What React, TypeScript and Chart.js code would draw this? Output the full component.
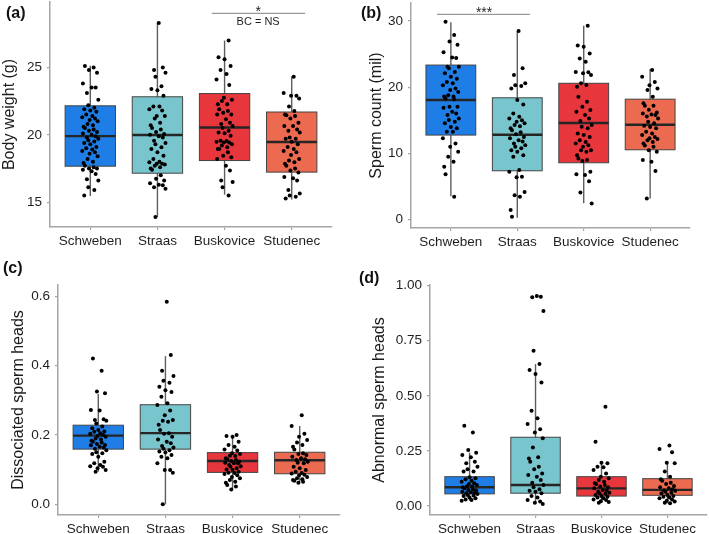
import React, { useEffect, useRef } from "react";
import { Chart, registerables } from "chart.js";

Chart.register(...registerables);

const FONT = "'Liberation Sans', Arial, Helvetica, sans-serif";
const CATEGORIES = ["Schweben", "Straas", "Buskovice", "Studenec"];
const BOX_FILLS = ["#1f7ee6", "#79c5cd", "#e7373c", "#ec6a4f"];
const JITTER = [-0.08, 0.05, -0.02, 0.1, -0.11, 0.02, 0.08, -0.05, 0.12, -0.03, 0.06, -0.09, 0.0, 0.09, -0.06, 0.03, -0.12, 0.07, -0.01, 0.11, -0.04, 0.04, -0.1];

// ---- (a) Body weight (g) ----
// box stats: [lower whisker, Q1, median, Q3, upper whisker]
const BW_BOX = [
  [15.46, 17.67, 19.9, 22.15, 25.12],
  [13.9, 17.15, 19.98, 22.82, 28.33],
  [15.56, 18.09, 20.54, 23.06, 26.99],
  [15.2, 17.23, 19.46, 21.69, 24.34],
];
const BW_TICKS = [15, 20, 25];
const BW_SCHWEBEN = [25.1, 25.0, 24.8, 24.6, 23.8, 23.5, 23.5, 23.1, 22.6, 22.2, 22.0, 21.9, 21.8, 21.7, 21.5, 21.4, 21.3, 21.2, 21.1, 21.0, 20.8, 20.7, 20.6, 20.5, 20.4, 20.3, 20.2, 20.1, 20.0, 19.9, 19.8, 19.7, 19.6, 19.5, 19.4, 19.3, 19.1, 19.0, 18.9, 18.8, 18.7, 18.6, 18.4, 18.2, 18.0, 17.9, 17.7, 17.6, 17.5, 17.5, 17.4, 17.3, 17.1, 16.7, 16.6, 16.1, 15.9, 15.5];
const BW_STRAAS = [28.3, 25.0, 24.8, 24.6, 24.3, 23.6, 23.4, 23.3, 22.9, 22.1, 22.1, 21.9, 21.8, 21.4, 21.4, 21.2, 20.9, 20.7, 20.5, 20.4, 20.2, 20.05, 20.0, 19.9, 19.8, 19.56, 19.4, 19.3, 19.07, 18.95, 18.7, 18.45, 18.2, 18.0, 17.96, 17.85, 17.85, 17.8, 17.7, 17.6, 17.5, 17.4, 16.99, 16.74, 16.6, 16.4, 16.3, 16.25, 16.1, 16.0, 13.9];
const BW_BUSKOVICE = [27.0, 25.76, 25.6, 25.1, 24.8, 24.5, 24.1, 23.7, 22.74, 22.6, 22.5, 22.26, 22.26, 21.9, 21.76, 21.64, 21.5, 21.5, 21.15, 20.9, 20.8, 20.66, 20.5, 20.3, 20.17, 20.12, 19.93, 19.56, 19.54, 19.48, 19.43, 19.43, 19.3, 19.2, 19.07, 18.95, 18.95, 18.7, 18.45, 18.33, 18.2, 17.7, 17.35, 16.6, 16.5, 16.1, 15.5];
const BW_STUDENEC = [24.3, 23.1, 22.9, 22.9, 22.7, 22.1, 21.76, 21.5, 21.45, 21.4, 21.2, 20.9, 20.66, 20.66, 20.4, 20.3, 20.17, 19.8, 19.7, 19.7, 19.48, 19.3, 19.1, 18.95, 18.8, 18.7, 18.5, 18.2, 18.1, 17.96, 17.85, 17.7, 17.5, 17.35, 17.2, 16.86, 16.78, 16.6, 15.9, 15.64, 15.5, 15.4, 15.27];

// ---- (b) Sperm count (mil) ----
const SC_BOX = [
  [3.56, 12.78, 18.07, 23.35, 29.8],
  [0.3, 7.39, 12.83, 18.41, 28.5],
  [2.5, 8.6, 14.6, 20.6, 29.3],
  [3.2, 10.56, 14.34, 18.2, 22.75],
];
const SC_TICKS = [0, 10, 20, 30];
const SC_SCHWEBEN = [29.9, 27.9, 26.9, 26.4, 25.3, 24.5, 24.4, 23.1, 23.1, 22.85, 22.3, 22.1, 21.6, 21.3, 20.8, 20.6, 20.3, 19.8, 19.6, 19.3, 18.8, 18.6, 18.6, 18.3, 18.2, 17.05, 17.05, 16.9, 16.3, 16.05, 15.8, 15.3, 15.05, 14.8, 14.55, 14.0, 13.8, 13.3, 13.3, 12.3, 11.5, 11.0, 10.25, 9.5, 8.75, 8.0, 6.85, 3.46];
const SC_STRAAS = [28.5, 22.85, 21.85, 20.6, 20.3, 20.2, 19.8, 18.07, 17.4, 16.05, 15.55, 15.3, 15.0, 14.8, 14.55, 14.3, 14.1, 13.8, 13.5, 13.2, 12.9, 12.5, 12.3, 12.0, 11.8, 11.5, 11.25, 11.0, 10.8, 10.5, 10.25, 9.75, 9.5, 7.5, 7.25, 6.5, 6.4, 4.2, 3.7, 3.45, 1.45, 0.44];
const SC_BUSKOVICE = [29.3, 26.3, 26.1, 25.1, 24.35, 23.85, 22.3, 22.25, 22.1, 21.85, 20.6, 20.33, 20.07, 18.57, 17.8, 17.05, 16.55, 16.3, 15.8, 15.3, 14.9, 14.3, 14.05, 13.8, 13.0, 12.8, 12.5, 12.0, 11.75, 11.5, 11.25, 11.0, 10.5, 10.5, 10.25, 9.75, 9.25, 9.0, 8.85, 7.25, 6.85, 6.75, 5.8, 4.1, 2.45];
const SC_STUDENEC = [22.6, 21.6, 20.8, 20.3, 19.8, 19.6, 18.56, 17.57, 17.2, 17.2, 16.6, 16.2, 16.05, 15.9, 15.8, 15.6, 15.3, 14.8, 14.55, 14.2, 14.0, 13.8, 13.3, 13.0, 12.8, 12.5, 12.3, 12.2, 12.0, 11.75, 11.5, 11.2, 11.0, 10.5, 10.25, 9.0, 8.75, 7.35, 3.2];

// ---- (c) Dissociated sperm heads ----
const DH_BOX = [
  [0.094, 0.159, 0.198, 0.228, 0.318],
  [0.0, 0.159, 0.205, 0.287, 0.427],
  [0.043, 0.092, 0.125, 0.149, 0.2],
  [0.062, 0.088, 0.127, 0.15, 0.226],
];
const DH_TICKS = [0.0, 0.2, 0.4, 0.6];
const DH_SCHWEBEN = [0.42, 0.385, 0.325, 0.32, 0.272, 0.27, 0.245, 0.243, 0.241, 0.233, 0.224, 0.219, 0.214, 0.21, 0.209, 0.205, 0.203, 0.2, 0.197, 0.195, 0.19, 0.187, 0.183, 0.18, 0.178, 0.174, 0.171, 0.17, 0.166, 0.164, 0.16, 0.156, 0.15, 0.147, 0.145, 0.137, 0.123, 0.118, 0.113, 0.11, 0.108, 0.104, 0.099, 0.094];
const DH_STRAAS = [0.584, 0.43, 0.385, 0.37, 0.356, 0.35, 0.339, 0.329, 0.324, 0.31, 0.291, 0.286, 0.27, 0.257, 0.243, 0.241, 0.238, 0.229, 0.214, 0.205, 0.203, 0.195, 0.187, 0.18, 0.176, 0.168, 0.164, 0.16, 0.156, 0.152, 0.149, 0.142, 0.137, 0.133, 0.118, 0.099, 0.099, 0.091, 0.0];
const DH_BUSKOVICE = [0.2, 0.197, 0.195, 0.18, 0.171, 0.166, 0.158, 0.155, 0.147, 0.145, 0.14, 0.139, 0.133, 0.13, 0.128, 0.125, 0.123, 0.12, 0.118, 0.118, 0.113, 0.11, 0.108, 0.104, 0.1, 0.099, 0.094, 0.091, 0.09, 0.087, 0.084, 0.079, 0.075, 0.07, 0.065, 0.062, 0.056, 0.051, 0.043];
const DH_STUDENEC = [0.257, 0.226, 0.203, 0.195, 0.185, 0.178, 0.171, 0.166, 0.158, 0.147, 0.145, 0.142, 0.137, 0.133, 0.13, 0.128, 0.123, 0.12, 0.118, 0.108, 0.104, 0.099, 0.094, 0.09, 0.089, 0.085, 0.084, 0.079, 0.075, 0.072, 0.07, 0.068, 0.065, 0.062];

// ---- (d) Abnormal sperm heads ----
const AH_BOX = [
  [0.024, 0.055, 0.085, 0.133, 0.242],
  [0.009, 0.058, 0.095, 0.312, 0.644],
  [0.015, 0.045, 0.08, 0.133, 0.196],
  [0.012, 0.0485, 0.073, 0.124, 0.196],
];
const AH_TICKS = [0.0, 0.25, 0.5, 0.75, 1.0];
const AH_SCHWEBEN = [0.364, 0.333, 0.254, 0.242, 0.231, 0.221, 0.201, 0.194, 0.178, 0.167, 0.156, 0.156, 0.13, 0.126, 0.121, 0.115, 0.11, 0.103, 0.1, 0.095, 0.09, 0.088, 0.085, 0.08, 0.076, 0.073, 0.07, 0.065, 0.062, 0.06, 0.058, 0.054, 0.05, 0.048, 0.045, 0.039, 0.035, 0.03, 0.027, 0.024];
const AH_STRAAS = [0.953, 0.95, 0.947, 0.885, 0.705, 0.644, 0.617, 0.599, 0.56, 0.432, 0.398, 0.372, 0.348, 0.333, 0.307, 0.266, 0.221, 0.216, 0.201, 0.178, 0.167, 0.148, 0.141, 0.133, 0.118, 0.106, 0.095, 0.085, 0.076, 0.069, 0.065, 0.058, 0.045, 0.039, 0.027, 0.02, 0.015, 0.009];
const AH_BUSKOVICE = [0.45, 0.292, 0.196, 0.194, 0.178, 0.176, 0.163, 0.148, 0.133, 0.126, 0.118, 0.11, 0.103, 0.1, 0.095, 0.088, 0.085, 0.08, 0.073, 0.07, 0.065, 0.06, 0.058, 0.055, 0.05, 0.045, 0.042, 0.039, 0.035, 0.03, 0.027, 0.021, 0.018, 0.015];
const AH_STUDENEC = [0.274, 0.259, 0.244, 0.196, 0.194, 0.156, 0.133, 0.121, 0.115, 0.106, 0.1, 0.091, 0.085, 0.08, 0.076, 0.072, 0.069, 0.065, 0.06, 0.058, 0.05, 0.045, 0.042, 0.039, 0.035, 0.03, 0.024, 0.02, 0.015, 0.012];

type Annot = { from: number; to: number; lineY: number; texts: { text: string; x: number; y: number; size: number }[] };
type Panel = {
  tag: string;
  tagX: number;
  tagY: number;
  title: string;
  box: number[][];
  groups: number[][];
  ticks: number[];
  decimals: number;
  yMin: number;
  yMax: number;
  area: { left: number; top: number; right: number; bottom: number };
  titleLeft: number;
  axisH: number;
  annot?: Annot;
};

const PANELS: Panel[] = [
  {
    tag: "(a)", tagX: 6, tagY: 18, title: "Body weight (g)", box: BW_BOX,
    groups: [BW_SCHWEBEN, BW_STRAAS, BW_BUSKOVICE, BW_STUDENEC], ticks: BW_TICKS, decimals: 0,
    yMin: 13.16, yMax: 29.85, area: { left: 50, top: 0, right: 332, bottom: 227 }, titleLeft: 0, axisH: 40,
    annot: { from: 2.81, to: 4.2, lineY: 29.01, texts: [{ text: "*", x: 3.5, y: 28.83, size: 14 }, { text: "BC = NS", x: 3.5, y: 28.15, size: 11 }] },
  },
  {
    tag: "(b)", tagX: 361, tagY: 18, title: "Sperm count (mil)", box: SC_BOX,
    groups: [SC_SCHWEBEN, SC_STRAAS, SC_BUSKOVICE, SC_STUDENEC], ticks: SC_TICKS, decimals: 0,
    yMin: -1.25, yMax: 32.72, area: { left: 411, top: 3, right: 690, bottom: 228 }, titleLeft: 367, axisH: 40,
    annot: { from: 0.79, to: 2.19, lineY: 31.01, texts: [{ text: "***", x: 1.5, y: 30.68, size: 14 }] },
  },
  {
    tag: "(c)", tagX: 3, tagY: 273, title: "Dissociated sperm heads", box: DH_BOX,
    groups: [DH_SCHWEBEN, DH_STRAAS, DH_BUSKOVICE, DH_STUDENEC], ticks: DH_TICKS, decimals: 1,
    yMin: -0.0308, yMax: 0.632, area: { left: 58, top: 285, right: 340, bottom: 515 }, titleLeft: 9, axisH: 19,
  },
  {
    tag: "(d)", tagX: 359, tagY: 283, title: "Abnormal sperm heads", box: AH_BOX,
    groups: [AH_SCHWEBEN, AH_STRAAS, AH_BUSKOVICE, AH_STUDENEC], ticks: AH_TICKS, decimals: 2,
    yMin: -0.0409, yMax: 1.003, area: { left: 430, top: 285, right: 708, bottom: 515 }, titleLeft: 370, axisH: 19,
  },
];

const W = 709;
const H = 534;
const BOX_HALF = 0.375;
const AXIS_COLOR = "#a6a6a6";
const TEXT_COLOR = "#1f1f1f";

function makePlugin(p: Panel) {
  return {
    id: "boxplot" + p.tag.replace(/[()]/g, ""),
    beforeDatasetsDraw(chart: any) {
      const { ctx } = chart;
      const xs = chart.scales.x;
      const ys = chart.scales.y;
      ctx.save();
      p.box.forEach((s, i) => {
        const cx = xs.getPixelForValue(i + 1);
        const half = xs.getPixelForValue(i + 1 + BOX_HALF) - cx;
        const [lo, q1, med, q3, hi] = s.map((v) => ys.getPixelForValue(v));
        ctx.strokeStyle = "#5e5e5e";
        ctx.lineWidth = 1.4;
        ctx.beginPath();
        ctx.moveTo(cx, lo);
        ctx.lineTo(cx, hi);
        ctx.stroke();
        ctx.fillStyle = BOX_FILLS[i];
        ctx.fillRect(cx - half, q3, 2 * half, q1 - q3);
        ctx.strokeStyle = "#444";
        ctx.lineWidth = 1;
        ctx.strokeRect(cx - half, q3, 2 * half, q1 - q3);
        ctx.strokeStyle = "#262626";
        ctx.lineWidth = 2.4;
        ctx.beginPath();
        ctx.moveTo(cx - half, med);
        ctx.lineTo(cx + half, med);
        ctx.stroke();
      });
      ctx.restore();
    },
    afterDraw(chart: any) {
      const { ctx } = chart;
      const xs = chart.scales.x;
      const ys = chart.scales.y;
      ctx.save();
      if (p.annot) {
        const a = p.annot;
        ctx.strokeStyle = "#808080";
        ctx.lineWidth = 1;
        const ly = ys.getPixelForValue(a.lineY);
        ctx.beginPath();
        ctx.moveTo(xs.getPixelForValue(a.from), ly);
        ctx.lineTo(xs.getPixelForValue(a.to), ly);
        ctx.stroke();
        ctx.fillStyle = TEXT_COLOR;
        ctx.textAlign = "center";
        ctx.textBaseline = "alphabetic";
        a.texts.forEach((t) => {
          ctx.font = `${t.size}px ${FONT}`;
          ctx.fillText(t.text, xs.getPixelForValue(t.x), ys.getPixelForValue(t.y));
        });
      }
      ctx.fillStyle = "#111";
      ctx.font = `bold 16px ${FONT}`;
      ctx.textAlign = "left";
      ctx.textBaseline = "alphabetic";
      ctx.fillText(p.tag, p.tagX, p.tagY);
      ctx.restore();
    },
  };
}

function PanelChart({ p }: { p: Panel }) {
  const ref = useRef<HTMLCanvasElement | null>(null);
  useEffect(() => {
    if (!ref.current) return;
    const points: { x: number; y: number }[] = [];
    p.groups.forEach((g, i) => {
      g.forEach((v, k) => points.push({ x: i + 1 + JITTER[(k + i * 5) % JITTER.length], y: v }));
    });
    const a = p.area;
    const chart = new Chart(ref.current, {
      type: "scatter",
      data: {
        datasets: [
          {
            data: points,
            pointRadius: 2,
            pointHoverRadius: 2,
            backgroundColor: "#000",
            borderWidth: 0,
          },
        ],
      },
      options: {
        animation: false,
        responsive: false,
        devicePixelRatio: 1,
        events: [],
        layout: {
          padding: {
            left: p.titleLeft,
            top: a.top,
            right: W - a.right,
            bottom: H - a.bottom - p.axisH,
          },
        },
        plugins: { legend: { display: false }, tooltip: { enabled: false } },
        scales: {
          x: {
            type: "linear",
            min: 0.4,
            max: 4.6,
            afterBuildTicks: (s: any) => {
              s.ticks = CATEGORIES.map((_, i) => ({ value: i + 1 }));
            },
            afterFit: (s: any) => {
              s.height = p.axisH;
              s.paddingLeft = 0;
              s.paddingRight = 0;
            },
            ticks: {
              autoSkip: false,
              maxRotation: 0,
              padding: 3,
              color: TEXT_COLOR,
              font: { family: FONT, size: 13.5 },
              callback: (v: any) => CATEGORIES[Math.round(Number(v)) - 1] ?? "",
            },
            grid: { display: true, drawOnChartArea: false, drawTicks: true, tickLength: 3, color: AXIS_COLOR, lineWidth: 1.2 },
            border: { display: true, color: AXIS_COLOR, width: 1.5 },
          },
          y: {
            type: "linear",
            min: p.yMin,
            max: p.yMax,
            afterBuildTicks: (s: any) => {
              s.ticks = p.ticks.map((v) => ({ value: v }));
            },
            afterFit: (s: any) => {
              s.width = a.left - p.titleLeft;
              s.paddingTop = 0;
              s.paddingBottom = 0;
            },
            ticks: {
              padding: 5,
              color: TEXT_COLOR,
              font: { family: FONT, size: 13.5 },
              callback: (v: any) => Number(v).toFixed(p.decimals),
            },
            title: {
              display: true,
              text: p.title,
              color: "#1a1a1a",
              font: { family: FONT, size: 16 },
              padding: { top: 0, bottom: 0 },
            },
            grid: { display: true, drawOnChartArea: false, drawTicks: true, tickLength: 3, color: AXIS_COLOR, lineWidth: 1.2 },
            border: { display: true, color: AXIS_COLOR, width: 1.5 },
          },
        },
      },
      plugins: [makePlugin(p)],
    } as any);
    return () => chart.destroy();
  }, [p]);
  return (
    <canvas
      ref={ref}
      width={W}
      height={H}
      style={{ position: "absolute", left: 0, top: 0, width: W, height: H }}
    />
  );
}

export default function App() {
  return (
    <div style={{ position: "absolute", left: 0, top: 0, width: W, height: H, background: "#fff", overflow: "hidden" }}>
      {PANELS.map((p) => (
        <PanelChart key={p.tag} p={p} />
      ))}
    </div>
  );
}
